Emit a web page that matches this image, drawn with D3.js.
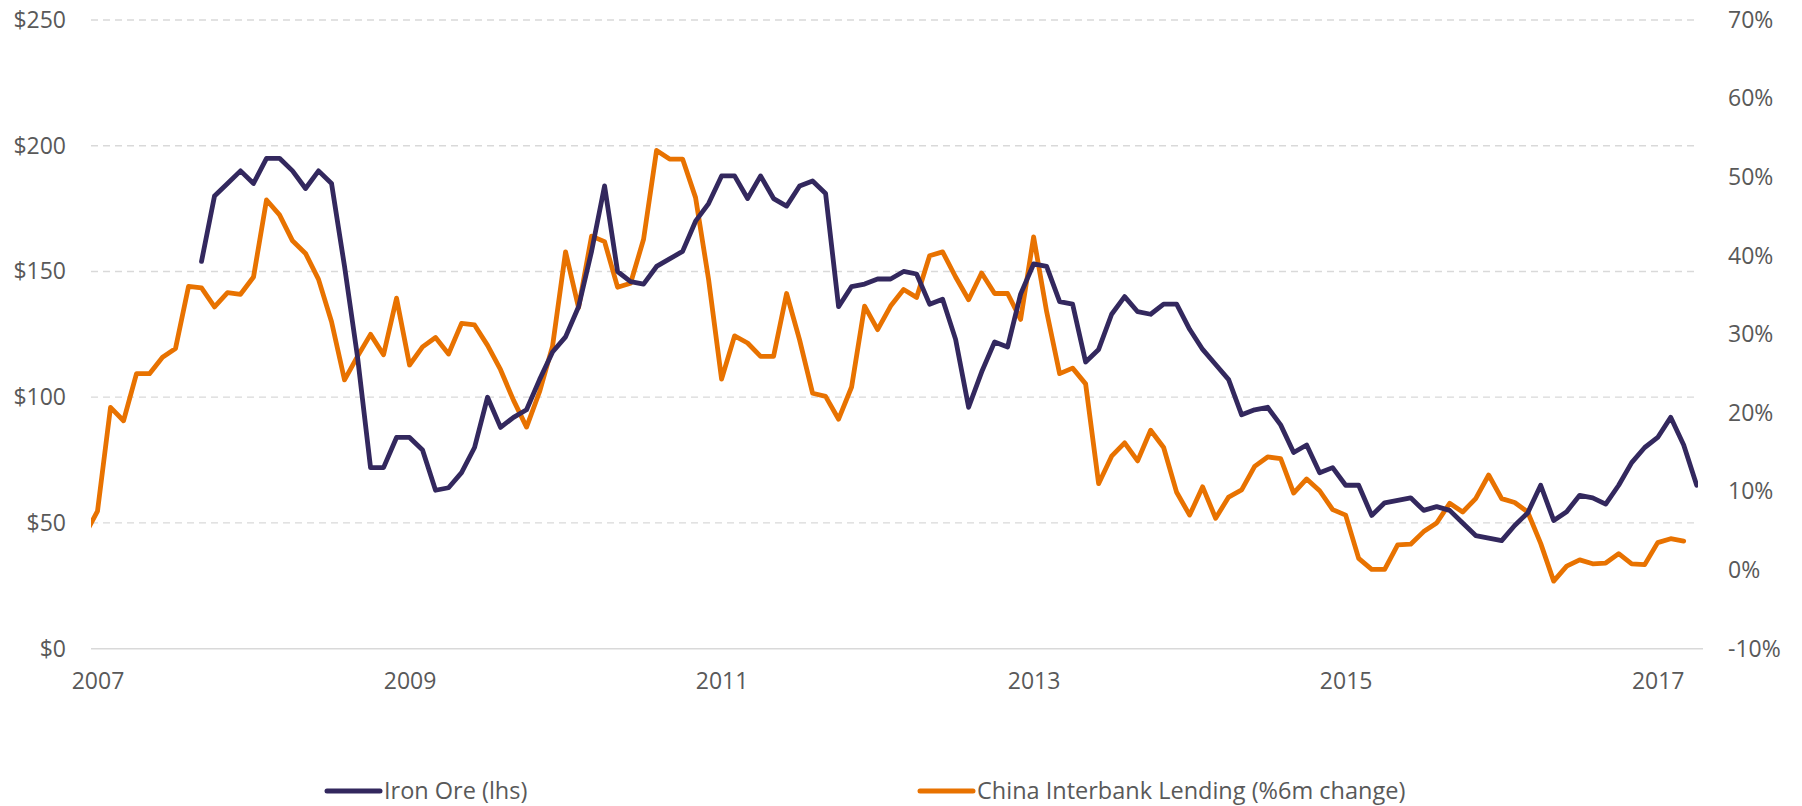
<!DOCTYPE html>
<meta charset="utf-8">
<style>
  body { margin: 0; background: #fff; }
  text { font-family: "Open Sans", sans-serif; fill: #595959; }
  .grid line { stroke: #d9d9d9; stroke-width: 1.3px; stroke-dasharray: 7 5; }
  .line { fill: none; stroke-width: 4.8px; stroke-linejoin: round; stroke-linecap: round; }
</style>
<body>
<script src="https://d3js.org/d3.v7.min.js"></script>
<script>

// months counted from Jan 2007 (0 = Jan 2007)
var ironStart = 8;      // Sep 2007
var lendingStart = -1;  // Dec 2006

// iron ore price, US$ (lhs)
var ironOre = [
  154, 180, 185, 190, 185, 195, 195, 190, 183, 190, 185, 152,
  116, 72, 72, 84, 84, 79, 63, 64, 70, 80, 100, 88,
  92, 95, 107, 118, 124, 136, 158, 184, 150, 146, 145, 152,
  155, 158, 170, 177, 188, 188, 179, 188, 179, 176, 184, 186,
  181, 136, 144, 145, 147, 147, 150, 149, 137, 139, 123, 96,
  110, 122, 120, 141, 153, 152, 138, 137, 114, 119, 133, 140,
  134, 133, 137, 137, 127, 119, 113, 107, 93, 95, 96, 89,
  78, 81, 70, 72, 65, 65, 53, 58, 59, 60, 55, 56.5,
  55, 50, 45, 44, 43, 49, 54, 65, 51, 54.5, 61, 60,
  57.5, 65, 74, 80, 84, 92, 81, 65
];

// China interbank lending, % 6m change (rhs)
var lending = [
  4.4, 7.5, 20.7, 19.0, 25.0, 25.0, 27.1, 28.2, 36.1, 35.9, 33.5, 35.3,
  35.1, 37.3, 47.1, 45.2, 41.9, 40.3, 37.0, 31.6, 24.2, 27.2, 30.0, 27.4,
  34.6, 26.1, 28.4, 29.6, 27.5, 31.4, 31.2, 28.6, 25.5, 21.6, 18.2, 22.7,
  28.5, 40.5, 33.4, 42.5, 41.8, 36.0, 36.5, 42.1, 53.4, 52.3, 52.3, 47.4,
  37.0, 24.3, 29.8, 28.9, 27.2, 27.2, 35.2, 29.3, 22.5, 22.1, 19.2, 23.3,
  33.6, 30.6, 33.6, 35.7, 34.7, 40.0, 40.5, 37.3, 34.4, 37.8, 35.2, 35.2,
  31.9, 42.4, 32.9, 25.0, 25.7, 23.7, 11.0, 14.5, 16.2, 13.9, 17.8, 15.6,
  9.9, 7.0, 10.6, 6.6, 9.3, 10.2, 13.2, 14.4, 14.2, 9.8, 11.6, 10.1,
  7.7, 7.0, 1.5, 0.1, 0.1, 3.2, 3.3, 4.9, 6.0, 8.5, 7.4, 9.1,
  12.1, 9.1, 8.6, 7.4, 3.4, -1.4, 0.5, 1.3, 0.8, 0.9, 2.1, 0.8,
  0.7, 3.5, 4.0, 3.7
];

var yearLabels = ["2007", "2009", "2011", "2013", "2015", "2017"];
var leftTicks = [0, 50, 100, 150, 200, 250];
var rightTicks = [-10, 0, 10, 20, 30, 40, 50, 60, 70];
var seriesNames = ["Iron Ore (lhs)", "China Interbank Lending (%6m change)"];
var colors = ["#33285e", "#e87200"];

var width = 1802, height = 806;
var plot = { left: 91, right: 1698, top: 20, bottom: 648.7 };

var x = d3.scaleLinear().domain([-0.5, 123.1]).range([plot.left, plot.right]);
var yL = d3.scaleLinear().domain([0, 250]).range([plot.bottom, plot.top]);
var yR = d3.scaleLinear().domain([-10, 70]).range([plot.bottom, plot.top]);

var svg = d3.select("body").append("svg")
  .attr("width", width)
  .attr("height", height);

svg.append("defs").append("clipPath").attr("id", "plotclip")
  .append("rect")
  .attr("x", plot.left).attr("y", 0)
  .attr("width", plot.right - plot.left).attr("height", height);

// dashed gridlines
svg.append("g").attr("class", "grid")
  .selectAll("line")
  .data(leftTicks.filter(function (d) { return d > 0; }))
  .enter().append("line")
  .attr("x1", plot.left).attr("x2", plot.right)
  .attr("y1", function (d) { return yL(d); })
  .attr("y2", function (d) { return yL(d); });

// base line at $0
svg.append("line")
  .attr("x1", plot.left).attr("x2", plot.right + 5)
  .attr("y1", yL(0)).attr("y2", yL(0))
  .attr("stroke", "#d9d9d9").attr("stroke-width", 1.5);

// left axis
var left = svg.append("g")
  .attr("transform", "translate(66,0)")
  .call(d3.axisLeft(yL).tickValues(leftTicks).tickSize(0).tickPadding(0)
    .tickFormat(function (d) { return "$" + d; }));
left.select(".domain").remove();
left.selectAll("text").style("font-size", "23px").attr("fill", "#595959");

// right axis
var right = svg.append("g")
  .attr("transform", "translate(1728,0)")
  .call(d3.axisRight(yR).tickValues(rightTicks).tickSize(0).tickPadding(0)
    .tickFormat(function (d) { return d + "%"; }));
right.select(".domain").remove();
right.selectAll("text").style("font-size", "23px").attr("fill", "#595959");

// bottom axis, a label every second January
var bottom = svg.append("g")
  .attr("transform", "translate(0," + plot.bottom + ")")
  .call(d3.axisBottom(x).tickValues(yearLabels.map(function (d, i) { return i * 24; }))
    .tickSize(0).tickPadding(24)
    .tickFormat(function (d, i) { return yearLabels[i]; }));
bottom.select(".domain").remove();
bottom.selectAll("text").style("font-size", "23px").attr("fill", "#595959");

// lines
var ironLine = d3.line()
  .x(function (d, i) { return x(ironStart + i); })
  .y(function (d) { return yL(d); });

var lendLine = d3.line()
  .x(function (d, i) { return x(lendingStart + i); })
  .y(function (d) { return yR(d); });

var lines = svg.append("g").attr("clip-path", "url(#plotclip)");

lines.append("path")
  .datum(lending)
  .attr("class", "line")
  .attr("stroke", colors[1])
  .attr("d", lendLine);

lines.append("path")
  .datum(ironOre)
  .attr("class", "line")
  .attr("stroke", colors[0])
  .attr("d", ironLine);

// legend
var legendX = [327, 920];
var legend = svg.append("g").selectAll("g")
  .data(seriesNames)
  .enter().append("g")
  .attr("transform", function (d, i) { return "translate(" + legendX[i] + ",791)"; });

legend.append("line")
  .attr("x1", 0).attr("x2", 53)
  .attr("stroke", function (d, i) { return colors[i]; })
  .attr("stroke-width", 5)
  .attr("stroke-linecap", "round");

legend.append("text")
  .attr("x", 57)
  .attr("dy", "0.35em")
  .style("font-size", "23.5px")
  .text(function (d) { return d; });

</script>
</body>
